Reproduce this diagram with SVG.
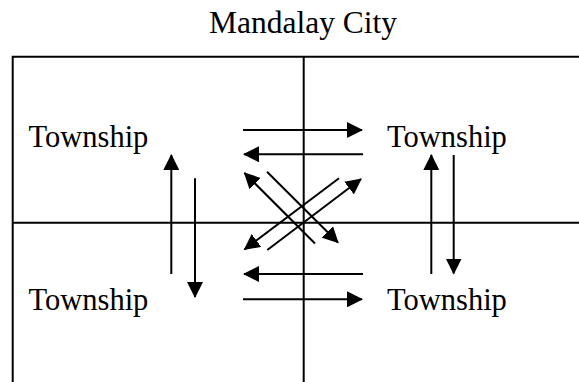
<svg xmlns="http://www.w3.org/2000/svg" width="579" height="382" viewBox="0 0 579 382">
<style>
.frame{stroke:#000;stroke-width:2;fill:none}
.arr{stroke:#000;stroke-width:2;fill:none;marker-end:url(#ah)}
text{font-family:"Liberation Serif","Times New Roman",serif;fill:#000}
.lbl{font-size:30.5px}
.title{font-size:31.5px;text-anchor:middle}
</style>
<defs>
<marker id="ah" viewBox="0 0 16 16" refX="15" refY="8" markerWidth="16" markerHeight="16" markerUnits="userSpaceOnUse" orient="auto">
<path d="M0,0 L16,8 L0,16 Z" fill="#000"/>
</marker>
</defs>
<rect width="579" height="382" fill="#fff"/>
<text class="title" x="303" y="33" font-family="Liberation Serif, serif">Mandalay City</text>
<g id="frame">
<path class="frame" d="M12.7,382 V56.7 H579"/>
<path class="frame" d="M303.7,56.7 V382"/>
<path class="frame" d="M12.7,222.7 H579"/>
</g>
<g id="township-nw"><text class="lbl" x="28.5" y="147">Township</text></g>
<g id="township-ne"><text class="lbl" x="387" y="147">Township</text></g>
<g id="township-sw"><text class="lbl" x="28.5" y="310">Township</text></g>
<g id="township-se"><text class="lbl" x="387" y="310">Township</text></g>
<g id="connectors">
<line class="arr" x1="243" y1="130" x2="362" y2="130"/>
<line class="arr" x1="363" y1="154.3" x2="244" y2="154.3"/>
<line class="arr" x1="363" y1="274" x2="244" y2="274"/>
<line class="arr" x1="243" y1="299.3" x2="362" y2="299.3"/>
<line class="arr" x1="171.3" y1="274" x2="171.3" y2="155"/>
<line class="arr" x1="195" y1="178.3" x2="195" y2="297"/>
<line class="arr" x1="431.3" y1="274" x2="431.3" y2="155"/>
<line class="arr" x1="453.7" y1="155" x2="453.7" y2="273.5"/>
<line class="arr" x1="315" y1="243.5" x2="244.5" y2="173"/>
<line class="arr" x1="267" y1="171.7" x2="338" y2="242.5"/>
<line class="arr" x1="267.3" y1="250" x2="361" y2="179"/>
<line class="arr" x1="339" y1="178.3" x2="244.5" y2="249.5"/>
</g>
</svg>
